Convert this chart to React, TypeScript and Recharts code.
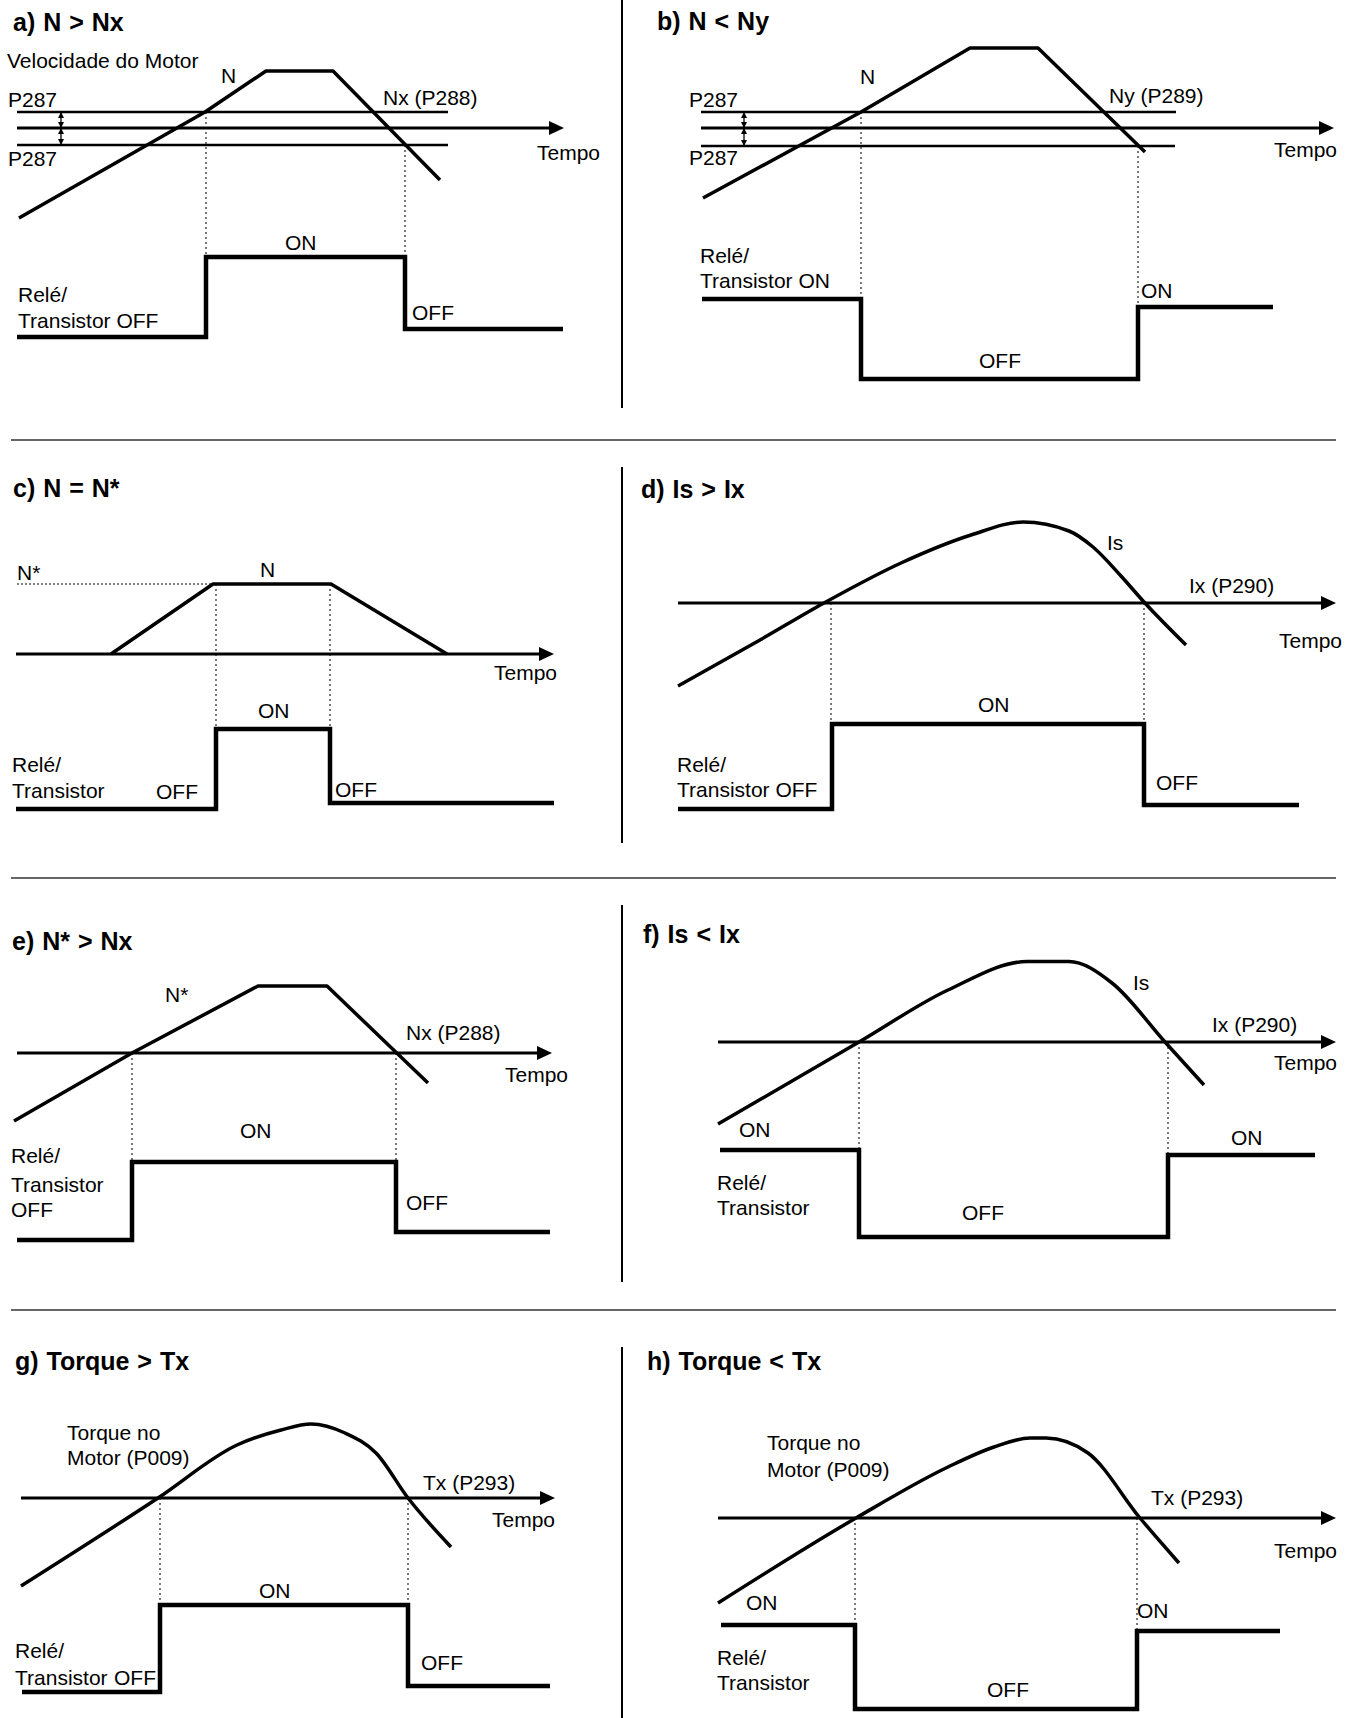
import { ComposedChart, Line, XAxis, YAxis, ReferenceDot } from 'recharts'

type Pt = { t: number; v: number }
type Tag = { t: number; v: number; text: string }
type Guide = { t: number; from: number; to: number }

const FONT = "'Liberation Sans', Arial, Helvetica, sans-serif"

// a) N > Nx
const aTitle: Tag = { t: 13, v: 31, text: 'a) N > Nx' }
const aSpeed: Pt[] = [{ t: 19, v: 218 }, { t: 205, v: 112 }, { t: 266, v: 71 }, { t: 333, v: 71 }, { t: 440, v: 180 }]
const aUpper: Pt[] = [{ t: 17, v: 112 }, { t: 448, v: 112 }]
const aLower: Pt[] = [{ t: 17, v: 145 }, { t: 448, v: 145 }]
const aAxis: Pt[] = [{ t: 17, v: 128 }, { t: 564, v: 128 }]
const aBand: Pt[] = [{ t: 61, v: 112 }, { t: 61, v: 128 }, { t: 61, v: 145 }]
const aRelay: Pt[] = [{ t: 17, v: 337 }, { t: 206, v: 337 }, { t: 206, v: 257 }, { t: 405, v: 257 }, { t: 405, v: 329 }, { t: 563, v: 329 }]
const aGuides: Guide[] = [{ t: 206, from: 112, to: 257 }, { t: 405, from: 145, to: 257 }]
const aTags: Tag[] = [
  { t: 7, v: 68, text: 'Velocidade do Motor' },
  { t: 221, v: 83, text: 'N' },
  { t: 383, v: 105, text: 'Nx (P288)' },
  { t: 8, v: 107, text: 'P287' },
  { t: 8, v: 166, text: 'P287' },
  { t: 537, v: 160, text: 'Tempo' },
  { t: 285, v: 250, text: 'ON' },
  { t: 18, v: 302, text: 'Relé/' },
  { t: 18, v: 328, text: 'Transistor OFF' },
  { t: 412, v: 320, text: 'OFF' },
]

// b) N < Ny
const bTitle: Tag = { t: 35, v: 30, text: 'b) N < Ny' }
const bSpeed: Pt[] = [{ t: 81, v: 198 }, { t: 239, v: 112 }, { t: 348, v: 48 }, { t: 416, v: 48 }, { t: 523, v: 152 }]
const bUpper: Pt[] = [{ t: 79, v: 112 }, { t: 554, v: 112 }]
const bLower: Pt[] = [{ t: 79, v: 146 }, { t: 553, v: 146 }]
const bAxis: Pt[] = [{ t: 79, v: 128 }, { t: 712, v: 128 }]
const bBand: Pt[] = [{ t: 122, v: 112 }, { t: 122, v: 128 }, { t: 122, v: 146 }]
const bRelay: Pt[] = [{ t: 80, v: 299 }, { t: 239, v: 299 }, { t: 239, v: 379 }, { t: 516, v: 379 }, { t: 516, v: 307 }, { t: 651, v: 307 }]
const bGuides: Guide[] = [{ t: 239, from: 112, to: 299 }, { t: 516, from: 146, to: 307 }]
const bTags: Tag[] = [
  { t: 238, v: 84, text: 'N' },
  { t: 487, v: 103, text: 'Ny (P289)' },
  { t: 67, v: 107, text: 'P287' },
  { t: 67, v: 165, text: 'P287' },
  { t: 652, v: 157, text: 'Tempo' },
  { t: 78, v: 263, text: 'Relé/' },
  { t: 78, v: 288, text: 'Transistor ON' },
  { t: 519, v: 298, text: 'ON' },
  { t: 357, v: 368, text: 'OFF' },
]

// c) N = N*
const cTitle: Tag = { t: 13, v: 57, text: 'c) N = N*' }
const cRef: Pt[] = [{ t: 17, v: 144 }, { t: 213, v: 144 }]
const cSpeed: Pt[] = [{ t: 111, v: 214 }, { t: 213, v: 144 }, { t: 331, v: 144 }, { t: 447, v: 214 }]
const cAxis: Pt[] = [{ t: 16, v: 214 }, { t: 554, v: 214 }]
const cRelay: Pt[] = [{ t: 16, v: 369 }, { t: 216, v: 369 }, { t: 216, v: 289 }, { t: 330, v: 289 }, { t: 330, v: 363 }, { t: 554, v: 363 }]
const cGuides: Guide[] = [{ t: 216, from: 144, to: 289 }, { t: 330, from: 144, to: 289 }]
const cTags: Tag[] = [
  { t: 17, v: 140, text: 'N*' },
  { t: 260, v: 137, text: 'N' },
  { t: 494, v: 240, text: 'Tempo' },
  { t: 258, v: 278, text: 'ON' },
  { t: 12, v: 332, text: 'Relé/' },
  { t: 12, v: 358, text: 'Transistor' },
  { t: 156, v: 359, text: 'OFF' },
  { t: 335, v: 357, text: 'OFF' },
]

// d) Is > Ix
const dTitle: Tag = { t: 19, v: 58, text: 'd) Is > Ix' }
const dCurrent: Pt[] = [
  { t: 56, v: 246 }, { t: 138, v: 200 }, { t: 202, v: 163 }, { t: 279, v: 123 }, { t: 349, v: 95 },
  { t: 401, v: 82 }, { t: 447, v: 91 }, { t: 471, v: 107 }, { t: 499, v: 136 }, { t: 522, v: 162 }, { t: 564, v: 205 },
]
const dAxis: Pt[] = [{ t: 56, v: 163 }, { t: 714, v: 163 }]
const dRelay: Pt[] = [{ t: 56, v: 369 }, { t: 210, v: 369 }, { t: 210, v: 284 }, { t: 522, v: 284 }, { t: 522, v: 365 }, { t: 677, v: 365 }]
const dGuides: Guide[] = [{ t: 209, from: 163, to: 284 }, { t: 522, from: 163, to: 284 }]
const dTags: Tag[] = [
  { t: 485, v: 110, text: 'Is' },
  { t: 567, v: 153, text: 'Ix (P290)' },
  { t: 657, v: 208, text: 'Tempo' },
  { t: 356, v: 272, text: 'ON' },
  { t: 55, v: 332, text: 'Relé/' },
  { t: 55, v: 357, text: 'Transistor OFF' },
  { t: 534, v: 350, text: 'OFF' },
]

// e) N* > Nx
const eTitle: Tag = { t: 12, v: 70, text: 'e) N* > Nx' }
const eSpeed: Pt[] = [{ t: 14, v: 241 }, { t: 132, v: 173 }, { t: 258, v: 106 }, { t: 327, v: 106 }, { t: 428, v: 203 }]
const eAxis: Pt[] = [{ t: 17, v: 173 }, { t: 552, v: 173 }]
const eRelay: Pt[] = [{ t: 17, v: 360 }, { t: 132, v: 360 }, { t: 132, v: 282 }, { t: 396, v: 282 }, { t: 396, v: 352 }, { t: 550, v: 352 }]
const eGuides: Guide[] = [{ t: 132, from: 173, to: 282 }, { t: 396, from: 173, to: 282 }]
const eTags: Tag[] = [
  { t: 165, v: 122, text: 'N*' },
  { t: 406, v: 160, text: 'Nx (P288)' },
  { t: 505, v: 202, text: 'Tempo' },
  { t: 240, v: 258, text: 'ON' },
  { t: 11, v: 283, text: 'Relé/' },
  { t: 11, v: 312, text: 'Transistor' },
  { t: 11, v: 337, text: 'OFF' },
  { t: 406, v: 330, text: 'OFF' },
]

// f) Is < Ix
const fTitle: Tag = { t: 21, v: 63, text: 'f) Is < Ix' }
const fCurrent: Pt[] = [
  { t: 96, v: 244 }, { t: 237, v: 162 }, { t: 326, v: 110 }, { t: 405, v: 81.5 }, { t: 447, v: 81.5 },
  { t: 490, v: 103 }, { t: 543, v: 162 }, { t: 582, v: 205 },
]
const fAxis: Pt[] = [{ t: 96, v: 162 }, { t: 714, v: 162 }]
const fRelay: Pt[] = [{ t: 98, v: 270 }, { t: 237, v: 270 }, { t: 237, v: 357 }, { t: 546, v: 357 }, { t: 546, v: 275 }, { t: 693, v: 275 }]
const fGuides: Guide[] = [{ t: 237, from: 162, to: 270 }, { t: 546, from: 162, to: 275 }]
const fTags: Tag[] = [
  { t: 511, v: 110, text: 'Is' },
  { t: 590, v: 152, text: 'Ix (P290)' },
  { t: 652, v: 190, text: 'Tempo' },
  { t: 117, v: 257, text: 'ON' },
  { t: 609, v: 265, text: 'ON' },
  { t: 95, v: 310, text: 'Relé/' },
  { t: 95, v: 335, text: 'Transistor' },
  { t: 340, v: 340, text: 'OFF' },
]

// g) Torque > Tx
const gTitle: Tag = { t: 15, v: 60, text: 'g) Torque > Tx' }
const gTorque: Pt[] = [
  { t: 21, v: 276 }, { t: 158, v: 188 }, { t: 237, v: 135 }, { t: 281, v: 120 }, { t: 311, v: 114 },
  { t: 345, v: 123 }, { t: 376, v: 143 }, { t: 408, v: 188 }, { t: 451, v: 237 },
]
const gAxis: Pt[] = [{ t: 21, v: 188 }, { t: 555, v: 188 }]
const gRelay: Pt[] = [{ t: 22, v: 382 }, { t: 160, v: 382 }, { t: 160, v: 295 }, { t: 408, v: 295 }, { t: 408, v: 376 }, { t: 550, v: 376 }]
const gGuides: Guide[] = [{ t: 160, from: 188, to: 295 }, { t: 408, from: 188, to: 295 }]
const gTags: Tag[] = [
  { t: 67, v: 130, text: 'Torque no' },
  { t: 67, v: 155, text: 'Motor (P009)' },
  { t: 423, v: 180, text: 'Tx (P293)' },
  { t: 492, v: 217, text: 'Tempo' },
  { t: 259, v: 288, text: 'ON' },
  { t: 15, v: 348, text: 'Relé/' },
  { t: 15, v: 375, text: 'Transistor' },
  { t: 114, v: 375, text: 'OFF' },
  { t: 421, v: 360, text: 'OFF' },
]

// h) Torque < Tx
const hTitle: Tag = { t: 25, v: 60, text: 'h) Torque < Tx' }
const hTorque: Pt[] = [
  { t: 96, v: 293 }, { t: 234, v: 208 }, { t: 326, v: 157 }, { t: 372, v: 137 }, { t: 408, v: 128 },
  { t: 424, v: 128 }, { t: 466, v: 143 }, { t: 518, v: 208 }, { t: 557, v: 253 },
]
const hAxis: Pt[] = [{ t: 96, v: 208 }, { t: 714, v: 208 }]
const hRelay: Pt[] = [{ t: 99, v: 315 }, { t: 233, v: 315 }, { t: 233, v: 399 }, { t: 515, v: 399 }, { t: 515, v: 321 }, { t: 658, v: 321 }]
const hGuides: Guide[] = [{ t: 233, from: 208, to: 315 }, { t: 515, from: 208, to: 321 }]
const hTags: Tag[] = [
  { t: 145, v: 140, text: 'Torque no' },
  { t: 145, v: 167, text: 'Motor (P009)' },
  { t: 529, v: 195, text: 'Tx (P293)' },
  { t: 652, v: 248, text: 'Tempo' },
  { t: 124, v: 300, text: 'ON' },
  { t: 515, v: 308, text: 'ON' },
  { t: 95, v: 355, text: 'Relé/' },
  { t: 95, v: 380, text: 'Transistor' },
  { t: 365, v: 387, text: 'OFF' },
]

type PanelSpec = {
  key: string
  left: number
  top: number
  width: number
  height: number
  title: Tag
  curve: Pt[]
  smooth: boolean
  thresholds: Pt[][]
  refLine?: Pt[]
  axis: Pt[]
  band?: Pt[]
  relay: Pt[]
  guides: Guide[]
  tags: Tag[]
}

const PANELS: PanelSpec[] = [
  { key: 'a', left: 0, top: 0, width: 622, height: 440, title: aTitle, curve: aSpeed, smooth: false, thresholds: [aUpper, aLower], axis: aAxis, band: aBand, relay: aRelay, guides: aGuides, tags: aTags },
  { key: 'b', left: 622, top: 0, width: 732, height: 440, title: bTitle, curve: bSpeed, smooth: false, thresholds: [bUpper, bLower], axis: bAxis, band: bBand, relay: bRelay, guides: bGuides, tags: bTags },
  { key: 'c', left: 0, top: 440, width: 622, height: 440, title: cTitle, curve: cSpeed, smooth: false, thresholds: [], refLine: cRef, axis: cAxis, relay: cRelay, guides: cGuides, tags: cTags },
  { key: 'd', left: 622, top: 440, width: 732, height: 440, title: dTitle, curve: dCurrent, smooth: true, thresholds: [], axis: dAxis, relay: dRelay, guides: dGuides, tags: dTags },
  { key: 'e', left: 0, top: 880, width: 622, height: 430, title: eTitle, curve: eSpeed, smooth: false, thresholds: [], axis: eAxis, relay: eRelay, guides: eGuides, tags: eTags },
  { key: 'f', left: 622, top: 880, width: 732, height: 430, title: fTitle, curve: fCurrent, smooth: true, thresholds: [], axis: fAxis, relay: fRelay, guides: fGuides, tags: fTags },
  { key: 'g', left: 0, top: 1310, width: 622, height: 408, title: gTitle, curve: gTorque, smooth: true, thresholds: [], axis: gAxis, relay: gRelay, guides: gGuides, tags: gTags },
  { key: 'h', left: 622, top: 1310, width: 732, height: 408, title: hTitle, curve: hTorque, smooth: true, thresholds: [], axis: hAxis, relay: hRelay, guides: hGuides, tags: hTags },
]

const DIVIDERS = [[0, 408], [467, 843], [905, 1282], [1347, 1718]]
const SEPARATORS = [439, 877, 1309]

const HEAD = 15

function textDot(tag: Tag, key: string, title = false) {
  return (
    <ReferenceDot
      key={key}
      x={tag.t}
      y={tag.v}
      r={0}
      shape={(s: any) => (
        <text
          x={s.cx}
          y={s.cy}
          fill="#000"
          fontFamily={FONT}
          fontSize={title ? 25 : 21}
          fontWeight={title ? 700 : 400}
          style={{ wordSpacing: title ? 1 : 0 }}
        >
          {tag.text}
        </text>
      )}
    />
  )
}

function smallHead(p: Pt, dir: 1 | -1, key: string) {
  // dir -1 points up, 1 points down; tip at the point
  return (
    <ReferenceDot
      key={key}
      x={p.t}
      y={p.v}
      r={0}
      shape={(s: any) => (
        <polygon
          points={`${s.cx},${s.cy} ${s.cx - 3},${s.cy - dir * 6} ${s.cx + 3},${s.cy - dir * 6}`}
          fill="#000"
        />
      )}
    />
  )
}

function Panel({ p }: { p: PanelSpec }) {
  const start = p.axis[0]
  const tip = p.axis[p.axis.length - 1]
  const axisLine = [start, { t: tip.t - HEAD + 2, v: tip.v }]
  return (
    <div style={{ position: 'absolute', left: p.left, top: p.top }}>
      <ComposedChart width={p.width} height={p.height} margin={{ top: 0, right: 0, bottom: 0, left: 0 }}>
        <XAxis type="number" dataKey="t" domain={[0, p.width]} hide allowDataOverflow />
        <YAxis type="number" domain={[0, p.height]} reversed hide allowDataOverflow />
        {p.thresholds.map((th, i) => (
          <Line key={`th${i}`} data={th} dataKey="v" type="linear" stroke="#000" strokeWidth={2.5} dot={false} activeDot={false} isAnimationActive={false} />
        ))}
        {p.refLine && (
          <Line data={p.refLine} dataKey="v" type="linear" stroke="#000" strokeWidth={1} strokeDasharray="2 2" dot={false} activeDot={false} isAnimationActive={false} />
        )}
        {p.guides.map((g, i) => (
          <Line
            key={`g${i}`}
            data={[{ t: g.t, v: g.from }, { t: g.t, v: g.to }]}
            dataKey="v"
            type="linear"
            stroke="#222"
            strokeWidth={1.2}
            strokeDasharray="2 3"
            dot={false}
            activeDot={false}
            isAnimationActive={false}
          />
        ))}
        <Line data={axisLine} dataKey="v" type="linear" stroke="#000" strokeWidth={3} dot={false} activeDot={false} isAnimationActive={false} />
        <ReferenceDot
          x={tip.t - HEAD}
          y={tip.v}
          r={0}
          shape={(s: any) => (
            <polygon points={`${s.cx},${s.cy - 7} ${s.cx + HEAD},${s.cy} ${s.cx},${s.cy + 7}`} fill="#000" />
          )}
        />
        {p.band && (
          <Line data={[p.band[0], p.band[2]]} dataKey="v" type="linear" stroke="#000" strokeWidth={1.3} dot={false} activeDot={false} isAnimationActive={false} />
        )}
        {p.band && [
          smallHead(p.band[0], -1, 'b0'),
          smallHead(p.band[1], 1, 'b1'),
          smallHead(p.band[1], -1, 'b2'),
          smallHead(p.band[2], 1, 'b3'),
        ]}
        <Line
          data={p.curve}
          dataKey="v"
          type={p.smooth ? 'monotone' : 'linear'}
          stroke="#000"
          strokeWidth={3.5}
          strokeLinejoin="round"
          dot={false}
          activeDot={false}
          isAnimationActive={false}
        />
        <Line
          data={p.relay}
          dataKey="v"
          type="linear"
          stroke="#000"
          strokeWidth={4.5}
          strokeLinejoin="miter"
          dot={false}
          activeDot={false}
          isAnimationActive={false}
        />
        {textDot(p.title, 'title', true)}
        {p.tags.map((tag, i) => textDot(tag, `t${i}`))}
      </ComposedChart>
    </div>
  )
}

export default function App() {
  return (
    <div style={{ position: 'absolute', left: 0, top: 0, width: 1354, height: 1718, background: '#fff' }}>
      {PANELS.map(p => (
        <Panel key={p.key} p={p} />
      ))}
      {DIVIDERS.map(([y1, y2], i) => (
        <div key={`d${i}`} style={{ position: 'absolute', left: 621, top: y1, width: 1.5, height: y2 - y1, background: '#000' }} />
      ))}
      {SEPARATORS.map((y, i) => (
        <div key={`s${i}`} style={{ position: 'absolute', left: 11, top: y, width: 1325, height: 1.5, background: '#666' }} />
      ))}
    </div>
  )
}
